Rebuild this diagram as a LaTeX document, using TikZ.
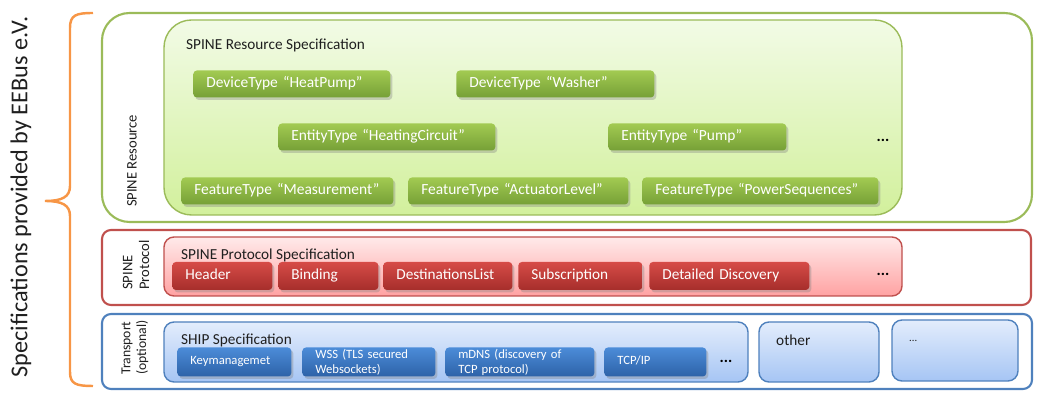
\documentclass[tikz,border=0pt]{standalone}
\usepackage{fontspec}
\setmainfont{Carlito}
\usetikzlibrary{shadows}

\definecolor{eeGreen}{HTML}{9BBB59}
\definecolor{eeRed}{HTML}{C0504D}
\definecolor{eeBlue}{HTML}{4F81BD}
\definecolor{eeOrange}{HTML}{F79646}
\definecolor{eeText}{HTML}{1F1F1F}
\definecolor{gTop}{HTML}{A2CA52}
\definecolor{gBot}{HTML}{76A036}
\definecolor{gLight}{HTML}{F2FBE6}
\definecolor{gDeep}{HTML}{D2F09C}
\definecolor{rTop}{HTML}{D64B47}
\definecolor{rBot}{HTML}{A62E2B}
\definecolor{rLight}{HTML}{FFEAEA}
\definecolor{rDeep}{HTML}{FFA2A2}
\definecolor{bTop}{HTML}{4C8CD8}
\definecolor{bBot}{HTML}{2D62A8}
\definecolor{bLight}{HTML}{E3EDFC}
\definecolor{bDeep}{HTML}{A6C5F4}

\begin{document}
\begin{tikzpicture}[
  x=0.02cm, y=-0.02cm,
  item/.style={
    rectangle, rounded corners=2pt, draw=none,
    anchor=west, inner xsep=0.26cm, inner ysep=0pt,
    text width=#1, align=left, text=white,
    execute at begin node=\strut,
    drop shadow={shadow xshift=0.04cm, shadow yshift=-0.05cm, opacity=0.35}
  },
  gitem/.style={item=#1, top color=gTop, bottom color=gBot,
    minimum height=0.54cm, font=\fontsize{8.8}{10}\selectfont},
  ritem/.style={item=#1, top color=rTop, bottom color=rBot,
    minimum height=0.56cm, font=\fontsize{8.7}{10}\selectfont},
  bitem/.style={item=#1, top color=bTop, bottom color=bBot,
    minimum height=0.58cm, font=\fontsize{7.2}{8.2}\selectfont},
  layer/.style={line width=1.2pt, fill=white},
  spec/.style={line width=0.8pt},
  title/.style={anchor=west, text=eeText, font=\fontsize{8.7}{10}\selectfont},
  side/.style={rotate=90, align=left, text=eeText, font=\fontsize{8.3}{9.5}\selectfont},
  more/.style={text=black, font=\fontsize{9}{10}\selectfont\bfseries},
]
\useasboundingbox (0,0) rectangle (1046,404);

%% Brace and caption
\draw[eeOrange, line width=1.4pt]
  (93,13) .. controls (76,13) and (70,15) .. (70,28) -- (70,186)
  .. controls (70,197) and (62,201) .. (45,201)
  .. controls (62,201) and (70,205) .. (70,216) -- (70,372)
  .. controls (70,384) and (76,386) .. (93,386);
\node[rotate=90, text=eeText, font=\fontsize{13.8}{16}\selectfont] (caption) at (21,197)
  {Specifications provided by EEBus e.V.};

%% Resource layer
\draw[layer, draw=eeGreen, rounded corners=0.55cm] (102,13) rectangle (1032,222);
\draw[spec, draw=eeGreen, top color=gLight, bottom color=gDeep,
  rounded corners=0.55cm] (164,20) rectangle (902,215);
\node[side] (resLabel) at (132,161) {SPINE Resource};
\node[title] (resTitle) at (180,45) {SPINE Resource Specification};

\node[gitem=3.42cm] (dtHeat)    at (193,84)  {DeviceType “HeatPump”};
\node[gitem=3.44cm] (dtWasher)  at (456,84)  {DeviceType “Washer”};
\node[gitem=3.82cm] (etHeat)    at (278,137) {EntityType “HeatingCircuit”};
\node[gitem=3.04cm] (etPump)    at (608,137) {EntityType “Pump”};
\node[gitem=3.72cm] (ftMeas)    at (181,191) {FeatureType “Measurement”};
\node[gitem=3.88cm] (ftAct)     at (408,191) {FeatureType “ActuatorLevel”};
\node[gitem=4.20cm] (ftPower)   at (642,191) {FeatureType “PowerSequences”};
\node[more] (resMore) at (883,140) {...};

%% Protocol layer
\draw[layer, draw=eeRed, rounded corners=0.18cm] (102,230) rectangle (1031,305);
\draw[spec, draw=eeRed, top color=rLight, bottom color=rDeep,
  rounded corners=0.2cm] (164,237) rectangle (902,296);
\node[side, anchor=west] (proLabel) at (136,296) {SPINE\\Protocol};
\node[title] (proTitle) at (175,255) {SPINE Protocol Specification};

\node[ritem=1.48cm] (pHeader)  at (172,276) {Header};
\node[ritem=1.48cm] (pBinding) at (278,276) {Binding};
\node[ritem=2.06cm] (pDest)    at (383,276) {DestinationsList};
\node[ritem=1.96cm] (pSub)     at (518,276) {Subscription};
\node[ritem=2.68cm] (pDisc)    at (649,276) {Detailed Discovery};
\node[more] (proMore) at (883,274) {...};

%% Transport layer
\draw[layer, draw=eeBlue, rounded corners=0.18cm] (102,314) rectangle (1032,389);
\draw[spec, draw=eeBlue, top color=bLight, bottom color=bDeep,
  rounded corners=0.2cm] (164,322) rectangle (748,382);
\draw[spec, draw=eeBlue, top color=bLight, bottom color=bDeep,
  rounded corners=0.2cm] (759,322) rectangle (879,382);
\draw[spec, draw=eeBlue, top color=bLight, bottom color=bDeep,
  rounded corners=0.2cm] (892,320) rectangle (1018,381);
\node[side, anchor=west, font=\fontsize{7.8}{9}\selectfont] (traLabel) at (135,381) {Transport\\(optional)};
\node[title] (shipTitle) at (175,340) {SHIP Specification};
\node[title] (otherTitle) at (770,340) {other};
\node[title, font=\fontsize{6}{7}\selectfont] (dotsTitle) at (903,341) {...};

\node[bitem=1.76cm] (tKey)  at (177,362) {Keymanagemet};
\node[bitem=2.14cm] (tWss)  at (302,362) {WSS (TLS secured\\Websockets)};
\node[bitem=2.46cm] (tMdns) at (445,362) {mDNS (discovery of\\TCP protocol)};
\node[bitem=1.52cm] (tTcp)  at (604,362) {TCP/IP};
\node[more] (traMore) at (726,361) {...};

\end{tikzpicture}
\end{document}
